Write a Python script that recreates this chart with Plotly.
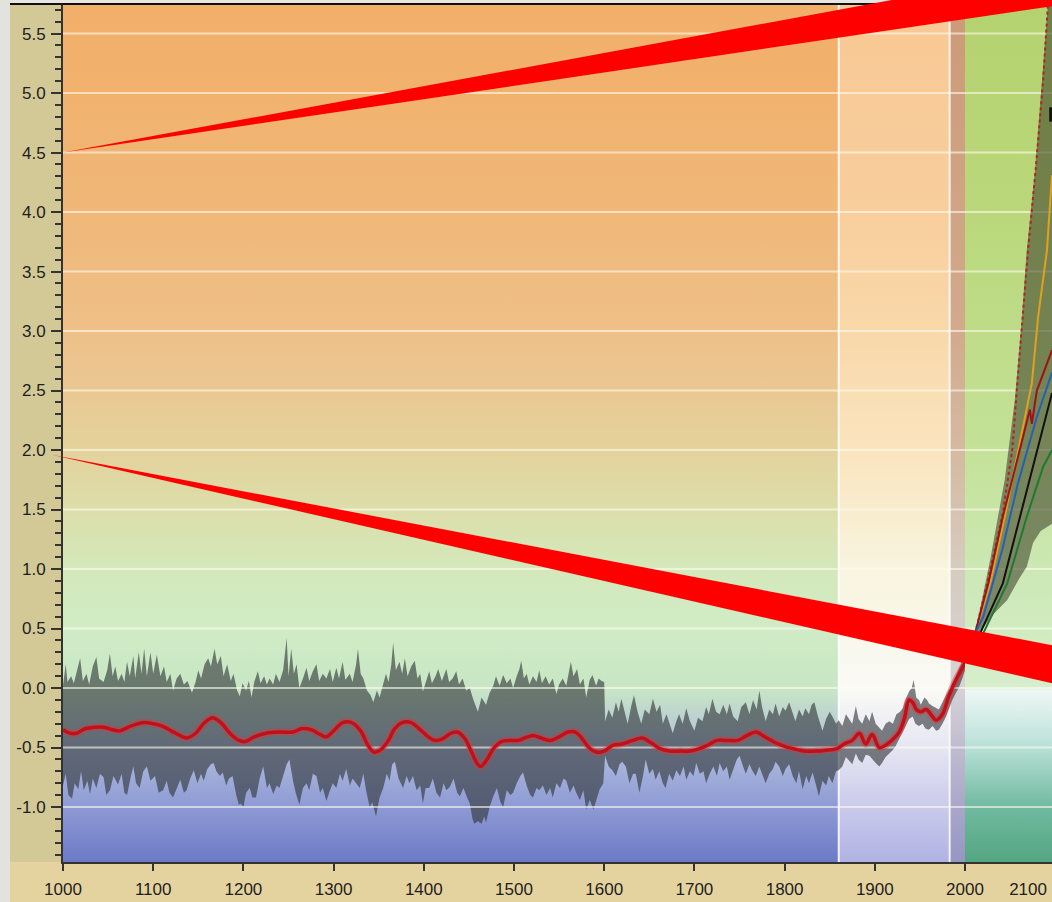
import plotly.graph_objects as go

# ---------------- data ----------------
YMIN, YMAX = -1.462, 5.74
PERIOD_EDGES = [1000, 1860, 1983, 2000]
PROJ_RANGE = [2000, 2138]
X_TICKS = [1000, 1100, 1200, 1300, 1400, 1500, 1600, 1700, 1800, 1900, 2000]
X2_TICKS = [2100]
Y_TICKS = [-1.0, -0.5, 0.0, 0.5, 1.0, 1.5, 2.0, 2.5, 3.0, 3.5, 4.0, 4.5, 5.0, 5.5]

# upper / lower bound of the reconstruction uncertainty band (year, deg C)
BAND_UPPER = [
    (1000, 0.02), (1003, 0.20), (1005, 0.05), (1009, 0.10), (1012, 0.04), (1016, 0.15), (1019, 0.25), (1022, 0.06),
    (1026, 0.12), (1029, 0.03), (1033, 0.18), (1037, 0.26), (1040, 0.08), (1045, 0.05), (1049, 0.15), (1052, 0.29),
    (1055, 0.10), (1058, 0.18), (1061, 0.06), (1065, 0.12), (1068, 0.05), (1071, 0.22), (1074, 0.10), (1078, 0.27),
    (1080, 0.08), (1084, 0.30), (1087, 0.12), (1090, 0.33), (1093, 0.10), (1097, 0.30), (1100, 0.12), (1104, 0.28),
    (1108, 0.10), (1112, 0.18), (1115, 0.05), (1119, 0.12), (1122, -0.02), (1126, 0.08), (1130, 0.12), (1134, 0.03),
    (1138, 0.06), (1143, -0.04), (1147, 0.05), (1150, 0.15), (1153, 0.08), (1157, 0.20), (1161, 0.25), (1164, 0.18),
    (1168, 0.33), (1171, 0.20), (1175, 0.27), (1178, 0.10), (1182, 0.20), (1186, 0.06), (1189, 0.12), (1193, -0.02),
    (1196, -0.07), (1199, 0.04), (1203, -0.02), (1206, 0.06), (1209, -0.08), (1212, 0.05), (1216, 0.14), (1219, 0.04),
    (1223, 0.10), (1226, 0.03), (1229, 0.08), (1233, 0.03), (1236, 0.12), (1240, 0.05), (1244, 0.15), (1248, 0.42),
    (1250, 0.10), (1253, 0.33), (1256, 0.12), (1259, 0.20), (1262, 0.00), (1266, 0.08), (1270, 0.17), (1273, 0.06),
    (1277, 0.14), (1281, 0.20), (1284, 0.06), (1288, 0.12), (1292, 0.08), (1296, 0.16), (1299, 0.05), (1303, 0.17),
    (1306, 0.08), (1310, 0.22), (1313, 0.07), (1318, 0.12), (1321, 0.05), (1325, 0.20), (1327, 0.33), (1330, 0.12),
    (1333, 0.08), (1337, -0.02), (1341, -0.06), (1344, -0.12), (1348, -0.02), (1351, -0.08), (1355, 0.05), (1358, 0.12),
    (1361, 0.05), (1364, 0.20), (1366, 0.38), (1369, 0.15), (1373, 0.22), (1376, 0.12), (1379, 0.25), (1382, 0.10),
    (1386, 0.18), (1390, 0.23), (1393, 0.08), (1396, 0.12), (1399, -0.03), (1403, 0.08), (1406, 0.14), (1409, 0.04),
    (1413, 0.10), (1416, 0.16), (1420, 0.06), (1425, 0.16), (1428, 0.05), (1432, 0.08), (1436, 0.14), (1439, 0.03),
    (1443, 0.08), (1447, -0.02), (1451, 0.00), (1455, -0.10), (1460, -0.20), (1464, -0.08), (1469, -0.14), (1473, -0.04),
    (1477, 0.02), (1480, 0.10), (1484, 0.02), (1488, 0.11), (1492, 0.04), (1496, 0.08), (1499, 0.00), (1503, 0.10),
    (1506, 0.16), (1508, 0.23), (1511, 0.08), (1514, 0.12), (1517, 0.03), (1521, 0.10), (1525, 0.05), (1528, 0.15),
    (1531, 0.04), (1535, 0.10), (1539, 0.03), (1543, 0.08), (1547, -0.05), (1550, 0.03), (1554, 0.08), (1558, 0.02),
    (1561, 0.14), (1563, 0.22), (1566, 0.10), (1570, 0.16), (1573, 0.03), (1577, 0.08), (1580, -0.08), (1584, 0.07),
    (1587, 0.11), (1591, 0.02), (1594, 0.08), (1597, 0.06), (1600, 0.05), (1601, -0.28), (1605, -0.18), (1609, -0.25),
    (1613, -0.12), (1616, -0.20), (1619, -0.09), (1623, -0.20), (1626, -0.30), (1630, -0.15), (1633, -0.06), (1637, -0.20),
    (1641, -0.30), (1645, -0.18), (1650, -0.22), (1654, -0.09), (1658, -0.20), (1662, -0.14), (1665, -0.30), (1669, -0.22),
    (1673, -0.32), (1676, -0.38), (1680, -0.28), (1683, -0.22), (1687, -0.30), (1691, -0.17), (1695, -0.28), (1700, -0.36),
    (1704, -0.25), (1709, -0.28), (1713, -0.16), (1716, -0.22), (1720, -0.09), (1724, -0.20), (1728, -0.22), (1732, -0.14),
    (1736, -0.22), (1739, -0.13), (1743, -0.24), (1748, -0.28), (1752, -0.16), (1757, -0.12), (1761, -0.22), (1765, -0.10),
    (1769, -0.18), (1772, -0.02), (1775, -0.16), (1779, -0.28), (1783, -0.18), (1787, -0.22), (1790, -0.13), (1794, -0.24),
    (1798, -0.16), (1801, -0.19), (1805, -0.12), (1809, -0.22), (1812, -0.28), (1816, -0.18), (1820, -0.24), (1823, -0.17),
    (1827, -0.22), (1830, -0.14), (1833, -0.12), (1837, -0.24), (1842, -0.36), (1846, -0.26), (1850, -0.20), (1853, -0.24),
    (1857, -0.30), (1860, -0.27), (1864, -0.32), (1868, -0.22), (1871, -0.25), (1875, -0.30), (1879, -0.15), (1882, -0.26),
    (1886, -0.30), (1890, -0.22), (1894, -0.28), (1897, -0.20), (1901, -0.30), (1905, -0.34), (1908, -0.36), (1912, -0.30),
    (1916, -0.28), (1920, -0.30), (1924, -0.22), (1928, -0.20), (1931, -0.17), (1935, -0.08), (1938, -0.03), (1941, 0.00),
    (1943, 0.07), (1946, -0.08), (1949, -0.10), (1951, -0.14), (1955, -0.08), (1958, -0.10), (1960, -0.13), (1964, -0.15),
    (1968, -0.17), (1971, -0.18), (1975, -0.12), (1979, -0.06), (1983, 0.00), (1986, 0.04), (1990, 0.10), (1993, 0.16),
    (1997, 0.22), (2000, 0.28),
]
BAND_LOWER = [
    (1000, -0.82), (1003, -0.72), (1006, -0.90), (1010, -0.93), (1013, -0.80), (1017, -0.85), (1020, -0.70), (1023, -0.86),
    (1027, -0.78), (1030, -0.89), (1033, -0.76), (1037, -0.84), (1041, -0.72), (1045, -0.75), (1048, -0.90), (1052, -0.86),
    (1056, -0.74), (1061, -0.81), (1065, -0.72), (1068, -0.88), (1071, -0.90), (1075, -0.75), (1078, -0.66), (1081, -0.80),
    (1085, -0.84), (1089, -0.70), (1093, -0.66), (1097, -0.78), (1102, -0.74), (1106, -0.88), (1111, -0.86), (1115, -0.78),
    (1118, -0.88), (1122, -0.92), (1126, -0.84), (1130, -0.77), (1134, -0.88), (1137, -0.86), (1141, -0.76), (1145, -0.69),
    (1149, -0.80), (1153, -0.72), (1156, -0.78), (1160, -0.68), (1164, -0.64), (1167, -0.63), (1170, -0.70), (1174, -0.74),
    (1177, -0.71), (1181, -0.82), (1184, -0.76), (1188, -0.74), (1192, -0.90), (1195, -0.98), (1197, -0.97), (1200, -1.00),
    (1203, -0.88), (1207, -0.84), (1210, -0.92), (1214, -0.92), (1218, -0.76), (1222, -0.66), (1226, -0.84), (1229, -0.80),
    (1233, -0.89), (1237, -0.82), (1240, -0.84), (1244, -0.74), (1248, -0.64), (1251, -0.60), (1255, -0.78), (1258, -0.88),
    (1262, -0.98), (1266, -0.84), (1270, -0.80), (1273, -0.86), (1277, -0.72), (1281, -0.74), (1285, -0.88), (1288, -0.84),
    (1292, -0.95), (1296, -0.86), (1299, -0.80), (1303, -0.84), (1307, -0.72), (1310, -0.78), (1314, -0.68), (1318, -0.82),
    (1321, -0.76), (1325, -0.80), (1329, -0.84), (1333, -0.72), (1336, -0.86), (1340, -1.00), (1343, -0.96), (1347, -1.08),
    (1351, -0.92), (1355, -0.84), (1359, -0.72), (1362, -0.78), (1365, -0.64), (1368, -0.62), (1372, -0.76), (1377, -0.84),
    (1381, -0.74), (1384, -0.80), (1388, -0.74), (1392, -0.86), (1396, -0.82), (1399, -0.97), (1402, -0.84), (1406, -0.84),
    (1410, -0.76), (1414, -0.88), (1418, -0.92), (1422, -0.80), (1425, -0.86), (1429, -0.83), (1433, -0.76), (1437, -0.88),
    (1440, -0.91), (1444, -0.84), (1448, -0.92), (1451, -0.97), (1454, -1.10), (1456, -1.14), (1460, -1.12), (1464, -1.14),
    (1467, -1.08), (1469, -1.13), (1473, -1.00), (1477, -0.91), (1481, -0.84), (1485, -0.96), (1488, -1.00), (1492, -0.86),
    (1496, -0.90), (1499, -0.88), (1503, -0.80), (1507, -0.74), (1510, -0.71), (1514, -0.82), (1518, -0.90), (1521, -0.92),
    (1525, -0.84), (1528, -0.86), (1532, -0.82), (1536, -0.90), (1540, -0.84), (1543, -0.92), (1547, -0.80), (1551, -0.84),
    (1555, -0.76), (1558, -0.78), (1562, -0.88), (1566, -0.82), (1569, -0.88), (1573, -0.94), (1577, -0.86), (1580, -1.02),
    (1584, -0.94), (1588, -1.02), (1591, -0.95), (1595, -0.85), (1599, -0.80), (1601, -0.57), (1605, -0.66), (1609, -0.69),
    (1613, -0.74), (1617, -0.64), (1620, -0.62), (1624, -0.66), (1628, -0.80), (1632, -0.72), (1635, -0.72), (1639, -0.88),
    (1643, -0.74), (1646, -0.60), (1650, -0.72), (1654, -0.68), (1657, -0.77), (1661, -0.70), (1665, -0.80), (1668, -0.84),
    (1672, -0.72), (1676, -0.78), (1680, -0.69), (1684, -0.74), (1688, -0.66), (1691, -0.77), (1695, -0.70), (1699, -0.74),
    (1702, -0.63), (1706, -0.72), (1710, -0.70), (1713, -0.80), (1717, -0.72), (1721, -0.66), (1725, -0.74), (1728, -0.63),
    (1732, -0.70), (1736, -0.66), (1739, -0.77), (1743, -0.68), (1747, -0.60), (1750, -0.57), (1754, -0.66), (1757, -0.72),
    (1761, -0.64), (1764, -0.69), (1768, -0.74), (1772, -0.66), (1775, -0.72), (1779, -0.80), (1783, -0.72), (1787, -0.68),
    (1790, -0.62), (1794, -0.66), (1798, -0.74), (1801, -0.68), (1805, -0.64), (1809, -0.74), (1813, -0.80), (1816, -0.70),
    (1820, -0.85), (1824, -0.74), (1827, -0.80), (1831, -0.71), (1835, -0.82), (1838, -0.91), (1842, -0.78), (1846, -0.82),
    (1849, -0.74), (1853, -0.80), (1857, -0.70), (1860, -0.69), (1864, -0.66), (1868, -0.58), (1871, -0.60), (1875, -0.64),
    (1879, -0.55), (1882, -0.60), (1886, -0.63), (1890, -0.56), (1894, -0.57), (1897, -0.60), (1901, -0.63), (1905, -0.66),
    (1908, -0.63), (1912, -0.58), (1916, -0.55), (1920, -0.52), (1923, -0.49), (1927, -0.42), (1931, -0.36), (1934, -0.32),
    (1938, -0.26), (1942, -0.24), (1945, -0.30), (1949, -0.32), (1953, -0.30), (1956, -0.34), (1960, -0.35), (1964, -0.32),
    (1968, -0.36), (1971, -0.35), (1975, -0.30), (1979, -0.24), (1983, -0.16), (1986, -0.10), (1990, -0.04), (1993, 0.00),
    (1997, 0.08), (2000, 0.15),
]

# smoothed reconstruction / instrumental record (red curve)
SMOOTH_YEARS = [1000, 1008, 1015, 1025, 1035, 1045, 1055, 1063, 1075, 1090, 1100, 1110, 1125, 1137, 1147, 1157, 1166,
                1175, 1185, 1195, 1202, 1212, 1225, 1240, 1255, 1265, 1275, 1285, 1292, 1300, 1310, 1320, 1330, 1338,
                1345, 1352, 1360, 1368, 1376, 1386, 1396, 1405, 1412, 1420, 1430, 1437, 1445, 1452, 1458, 1463, 1470,
                1478, 1486, 1495, 1505, 1515, 1522, 1530, 1540, 1550, 1560, 1568, 1575, 1583, 1592, 1600, 1610, 1620,
                1632, 1642, 1652, 1662, 1672, 1685, 1695, 1705, 1715, 1725, 1735, 1748, 1758, 1768, 1778, 1790, 1800,
                1810, 1822, 1835, 1848, 1858, 1866, 1875, 1883, 1890, 1897, 1905, 1912, 1920, 1927, 1933, 1938, 1942,
                1946, 1951, 1957, 1962, 1968, 1975, 1982, 1990, 1995, 2000]
SMOOTH_VALUES = [-0.35, -0.38, -0.38, -0.34, -0.33, -0.33, -0.35, -0.36, -0.32, -0.29, -0.30, -0.32, -0.38, -0.42,
                 -0.38, -0.29, -0.25, -0.29, -0.38, -0.44, -0.45, -0.41, -0.38, -0.37, -0.37, -0.34, -0.35, -0.39,
                 -0.41, -0.36, -0.29, -0.29, -0.36, -0.48, -0.54, -0.52, -0.45, -0.34, -0.29, -0.29, -0.35, -0.41,
                 -0.44, -0.43, -0.38, -0.37, -0.42, -0.52, -0.62, -0.66, -0.60, -0.50, -0.45, -0.44, -0.44, -0.41,
                 -0.40, -0.42, -0.44, -0.41, -0.37, -0.37, -0.42, -0.50, -0.54, -0.53, -0.48, -0.47, -0.44, -0.42,
                 -0.46, -0.51, -0.53, -0.53, -0.53, -0.51, -0.48, -0.44, -0.44, -0.44, -0.40, -0.37, -0.41, -0.46,
                 -0.49, -0.51, -0.53, -0.53, -0.52, -0.51, -0.47, -0.44, -0.38, -0.47, -0.39, -0.50, -0.48, -0.43,
                 -0.37, -0.25, -0.10, -0.12, -0.18, -0.20, -0.18, -0.22, -0.27, -0.22, -0.07, 0.07, 0.14, 0.21]

# projections
ENV_UPPER_YEARS = [2016, 2040, 2063, 2079, 2090, 2098, 2111, 2122, 2132, 2138]
ENV_UPPER = [0.46, 1.08, 1.75, 2.42, 3.09, 3.68, 4.35, 5.11, 5.78, 6.30]
ENV_LOWER_YEARS = [2016, 2024, 2045, 2067, 2086, 2098, 2108, 2120, 2138]
ENV_LOWER = [0.46, 0.47, 0.62, 0.74, 0.92, 1.02, 1.22, 1.32, 1.38]

SCEN_NAMES = ["dotted", "orange", "darkred", "blue", "black", "green"]
SCEN_YEARS = {
    "dotted": [2016, 2035, 2059, 2075, 2083, 2100, 2112, 2124, 2132],
    "orange": [2016, 2040, 2063, 2084, 2106, 2116, 2130, 2138],
    "darkred": [2016, 2037, 2060, 2087, 2103, 2106, 2114, 2138],
    "blue": [2016, 2029, 2059, 2084, 2114, 2138],
    "black": [2016, 2024, 2060, 2087, 2114, 2138],
    "green": [2016, 2029, 2067, 2098, 2124, 2138],
}
SCEN_VALUES = {
    "dotted": [0.46, 0.88, 1.44, 2.00, 2.56, 3.68, 4.35, 5.11, 5.78],
    "orange": [0.46, 0.88, 1.44, 2.00, 2.56, 3.12, 3.68, 4.31],
    "darkred": [0.46, 0.88, 1.44, 2.00, 2.34, 2.22, 2.50, 2.84],
    "blue": [0.46, 0.60, 1.16, 1.72, 2.28, 2.65],
    "black": [0.46, 0.46, 0.88, 1.44, 2.00, 2.48],
    "green": [0.46, 0.46, 0.88, 1.44, 1.86, 2.00],
}
SCEN_COLORS = {"dotted": "#b0242a", "orange": "#e2a020", "darkred": "#9c1414",
               "blue": "#2461b4", "black": "#111111", "green": "#1f7a30"}
# short dark range bar near the right edge
RANGE_BAR_YEAR = [2136, 2136]
RANGE_BAR = [4.76, 4.88]

# red wedge annotations: apex value on y axis, apex x offset, (low, high) value at right edge
WEDGES = [(4.5, 0.0, 5.73, 6.03), (1.96, -11 / 989, 0.04, 0.36)]

# ---------------- figure ----------------
SPAN = YMAX - YMIN


def yp(v):
    return (v - YMIN) / SPAN


def gradient_rect(x0, x1, xaxis, stops):
    cs = [[yp(v), c] for v, c in stops]
    return go.Scatter(
        x=[x0, x1, x1, x0, x0], y=[YMIN, YMIN, YMAX, YMAX, YMIN],
        fill="toself", mode="lines", line=dict(width=0),
        fillgradient=dict(type="vertical", colorscale=cs, start=YMIN, stop=YMAX),
        xaxis=xaxis, yaxis="y", hoverinfo="skip", showlegend=False)


fig = go.Figure()

MAIN_STOPS = [(YMIN, "rgb(108,122,198)"), (-1.0, "rgb(142,154,212)"), (-0.5, "rgb(176,190,222)"),
              (0.0, "rgb(200,230,196)"), (0.5, "rgb(208,236,198)"), (1.0, "rgb(212,232,186)"),
              (1.5, "rgb(220,222,170)"), (2.0, "rgb(228,210,156)"), (2.5, "rgb(234,200,146)"),
              (3.0, "rgb(238,192,136)"), (4.0, "rgb(240,183,120)"), (5.0, "rgb(241,178,110)"),
              (YMAX, "rgb(241,175,106)")]
WHITE_STOPS = [(YMIN, "rgb(176,178,226)"), (-1.0, "rgb(202,202,236)"), (-0.5, "rgb(230,230,242)"),
               (0.0, "rgb(250,250,246)"), (1.0, "rgb(248,244,222)"), (2.0, "rgb(250,228,190)"),
               (3.0, "rgb(249,216,170)"), (4.0, "rgb(248,206,156)"), (YMAX, "rgb(248,200,148)")]
DARK_STOPS = [(YMIN, "rgb(150,150,196)"), (-1.0, "rgb(170,166,202)"), (0.0, "rgb(214,210,214)"),
              (1.0, "rgb(214,204,190)"), (2.0, "rgb(212,186,160)"), (3.0, "rgb(210,170,140)"),
              (YMAX, "rgb(204,154,120)")]
PROJ_STOPS = [(YMIN, "rgb(84,166,130)"), (-1.0, "rgb(112,186,160)"), (-0.5, "rgb(184,224,214)"),
              (-0.02, "rgb(238,247,246)"), (0.0, "rgb(214,238,204)"), (1.0, "rgb(204,232,180)"),
              (2.0, "rgb(196,226,152)"), (3.0, "rgb(190,220,136)"), (4.0, "rgb(186,216,122)"),
              (YMAX, "rgb(180,210,110)")]

fig.add_trace(gradient_rect(PERIOD_EDGES[0], PERIOD_EDGES[1], "x", MAIN_STOPS))
fig.add_trace(gradient_rect(PERIOD_EDGES[1], PERIOD_EDGES[2], "x", WHITE_STOPS))
fig.add_trace(gradient_rect(PERIOD_EDGES[2], PERIOD_EDGES[3], "x", DARK_STOPS))
fig.add_trace(gradient_rect(PROJ_RANGE[0], PROJ_RANGE[1], "x2", PROJ_STOPS))

# period separators
vx, vy = [], []
for e in PERIOD_EDGES[1:3]:
    vx += [e, e, None]
    vy += [YMIN, YMAX, None]
fig.add_trace(go.Scatter(x=vx, y=vy, mode="lines", line=dict(color="rgba(255,255,255,0.85)", width=2),
                         hoverinfo="skip", showlegend=False))

# uncertainty band
up_x = [p[0] for p in BAND_UPPER]
up_y = [p[1] for p in BAND_UPPER]
lo_x = [p[0] for p in BAND_LOWER]
lo_y = [p[1] for p in BAND_LOWER]
fig.add_trace(go.Scatter(x=up_x + lo_x[::-1], y=up_y + lo_y[::-1], fill="toself", mode="lines",
                         line=dict(width=0), fillcolor="rgba(48,54,56,0.62)", hoverinfo="skip",
                         showlegend=False))

# grid lines
for xa, xr in (("x", [PERIOD_EDGES[0], PERIOD_EDGES[-1]]), ("x2", PROJ_RANGE)):
    gx, gy = [], []
    for v in Y_TICKS:
        gx += [xr[0], xr[1], None]
        gy += [v, v, None]
    fig.add_trace(go.Scatter(x=gx, y=gy, mode="lines", xaxis=xa, yaxis="y",
                             line=dict(color="rgba(255,252,240,0.6)", width=2),
                             hoverinfo="skip", showlegend=False))

# projection envelope
fig.add_trace(go.Scatter(x=ENV_UPPER_YEARS + ENV_LOWER_YEARS[::-1], y=ENV_UPPER + ENV_LOWER[::-1],
                         fill="toself", mode="lines", line=dict(width=0),
                         fillcolor="rgba(62,66,42,0.58)", xaxis="x2", yaxis="y",
                         hoverinfo="skip", showlegend=False))
for name in SCEN_NAMES:
    fig.add_trace(go.Scatter(x=SCEN_YEARS[name], y=SCEN_VALUES[name], mode="lines", xaxis="x2", yaxis="y",
                             line=dict(color=SCEN_COLORS[name], width=2,
                                       dash="dot" if name == "dotted" else "solid"),
                             hoverinfo="skip", showlegend=False))
fig.add_trace(go.Scatter(x=RANGE_BAR_YEAR, y=RANGE_BAR, mode="lines", xaxis="x2", yaxis="y",
                         line=dict(color="#111111", width=3), hoverinfo="skip", showlegend=False))

# red smoothed curve
fig.add_trace(go.Scatter(x=SMOOTH_YEARS, y=SMOOTH_VALUES, mode="lines",
                         line=dict(color="rgba(230,50,50,0.45)", width=7, shape="spline"),
                         hoverinfo="skip", showlegend=False))
fig.add_trace(go.Scatter(x=SMOOTH_YEARS, y=SMOOTH_VALUES, mode="lines",
                         line=dict(color="#c0101c", width=3.5, shape="spline"),
                         hoverinfo="skip", showlegend=False))

shapes = []
W = 989.0
H = 857.0
# far-left grey strip, left axis strip, top strip, top black line
shapes.append(dict(type="rect", xref="paper", yref="paper", x0=-63 / W, x1=-53 / W, y0=-40 / H, y1=1 + 5 / H,
                   fillcolor="#e2e2de", line=dict(width=0), layer="below"))
shapes.append(dict(type="rect", xref="paper", yref="paper", x0=-53 / W, x1=0, y0=0, y1=1,
                   fillcolor="#d3c996", line=dict(width=0), layer="below"))
shapes.append(dict(type="rect", xref="paper", yref="paper", x0=-53 / W, x1=1, y0=1, y1=1 + 5 / H,
                   fillcolor="#e6e6e2", line=dict(width=0), layer="below"))
shapes.append(dict(type="line", xref="paper", yref="paper", x0=-53 / W, x1=1, y0=1 + 1 / H, y1=1 + 1 / H,
                   line=dict(color="#111", width=2), layer="above"))
for apex, ax0, lo, hi in WEDGES:
    shapes.append(dict(type="path", xref="paper", yref="paper",
                       path=f"M {ax0},{yp(apex)} L 1,{yp(lo)} L 1,{yp(hi)} Z",
                       fillcolor="#ff0000", line=dict(width=0), layer="above"))

font = dict(family="Liberation Sans, Arial, sans-serif", size=17, color="#1e1e1e")
fig.update_layout(
    width=1052, height=902, margin=dict(l=63, r=0, t=5, b=40, autoexpand=False),
    paper_bgcolor="#e5d39f", plot_bgcolor="rgba(0,0,0,0)", showlegend=False, shapes=shapes,
    xaxis=dict(domain=[0, 902 / W], range=[PERIOD_EDGES[0], PERIOD_EDGES[-1]], tickmode="array",
               tickvals=X_TICKS, ticktext=[str(t) for t in X_TICKS], ticks="outside", ticklen=7, tickwidth=2,
               tickcolor="#333", showline=True, linecolor="#333", linewidth=2, showgrid=False, zeroline=False,
               tickfont=font, ticklabelstandoff=4, automargin=False, fixedrange=True),
    xaxis2=dict(domain=[902 / W, 1], range=PROJ_RANGE, anchor="y", tickmode="array", tickvals=X2_TICKS,
                ticktext=[str(t) for t in X2_TICKS], ticks="", showline=True, linecolor="#333", linewidth=2,
                showgrid=False, zeroline=False, tickfont=font, ticklabelstandoff=11, automargin=False),
    yaxis=dict(range=[YMIN, YMAX], tickmode="array", tickvals=Y_TICKS, ticktext=[f"{v:.1f}" for v in Y_TICKS],
               ticks="outside", ticklen=10, tickwidth=2, tickcolor="#333", showline=True, linecolor="#333",
               linewidth=2, showgrid=False, zeroline=False, tickfont=font, ticklabelstandoff=2, automargin=False,
               minor=dict(tickmode="linear", tick0=0, dtick=0.1, ticks="outside", ticklen=6, tickwidth=1.5,
                          tickcolor="#333", showgrid=False)),
)

fig.write_html("out.html", config={"displayModeBar": False},
               post_script="document.body.style.margin='0px';document.body.style.overflow='hidden';")
